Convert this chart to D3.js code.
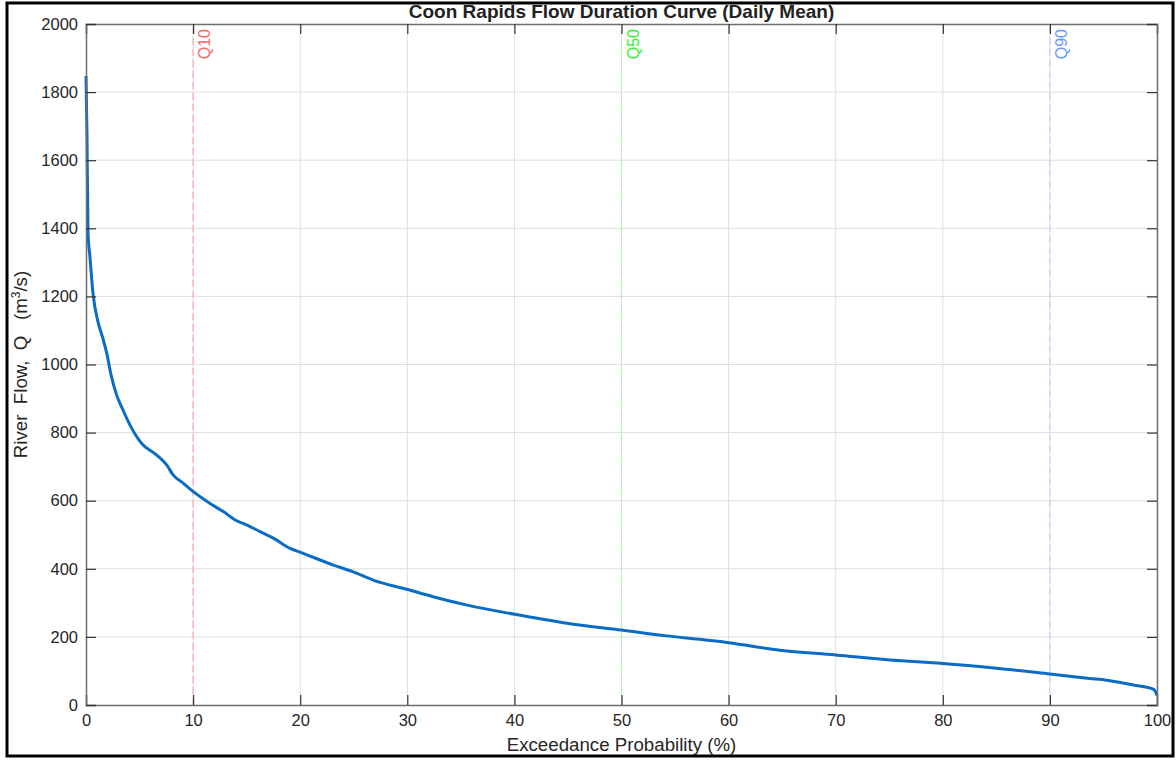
<!DOCTYPE html>
<html>
<head>
<meta charset="utf-8">
<script src="https://cdn.jsdelivr.net/npm/d3@7"></script>
<style>
  body { margin: 0; background: #fff; }
  text { font-family: "Liberation Sans", Arial, sans-serif; }
</style>
</head>
<body>
<div id="container"></div>
<script>
// flow duration curve
var exceed = [0, 0.09, 0.19, 0.37, 0.65, 1.12, 1.59, 1.96, 2.3, 2.86, 3.4, 4.11, 5.2, 6.6, 7.53, 8.15, 9.09, 9.96,
  11.58, 12.82, 14.07, 15.0, 16.25, 17.49, 19.05, 19.98, 23.1, 24.96, 26.8, 29.94, 32.4, 35.5, 39.9, 44.9, 50.0,
  54.2, 57.3, 60.0, 64.8, 70.0, 75.1, 80.0, 85.0, 90.0, 93.7, 95.3, 97.8, 99.7, 100];
var flow = [1847, 1680, 1386, 1316, 1210, 1125, 1075, 1030, 975, 910, 870, 822, 768, 734, 705, 675, 651, 628,
  592, 568, 541, 529, 509, 490, 460, 449, 411, 391, 367, 340, 318, 294, 267, 240, 220,
  203, 193, 183, 161, 147, 132, 122, 108, 91, 78, 73, 59, 46, 28];

var xTicks = [0, 10, 20, 30, 40, 50, 60, 70, 80, 90, 100];
var yTicks = [0, 200, 400, 600, 800, 1000, 1200, 1400, 1600, 1800, 2000];

var qNames = ["Q10", "Q50", "Q90"];
var qPos = [10, 50, 90];
var qText = ["#ff6464", "#33f033", "#6b98ff"];
var qLine = ["#ffb0b0", "#b8f0b8", "#c3d3ff"];

width = 1176;
height = 761;

var margin = { left: 86, right: 19, top: 24, bottom: 56 };

var svg = d3.select("#container").append("svg")
    .attr("width", width)
    .attr("height", height);

// figure frame
svg.append("rect")
    .attr("x", 7).attr("y", 3)
    .attr("width", 1166).attr("height", 753)
    .attr("fill", "#fff")
    .attr("stroke", "#000")
    .attr("stroke-width", 3);

var x = d3.scaleLinear().domain([0, 100]).range([margin.left, width - margin.right]);
var y = d3.scaleLinear().domain([0, 2000]).range([height - margin.bottom, margin.top]);

var g = svg.append("g");

// grid
g.append("g").selectAll("line").data(xTicks.slice(1, -1)).enter().append("line")
    .attr("x1", d => x(d)).attr("x2", d => x(d))
    .attr("y1", y(0)).attr("y2", y(2000))
    .attr("stroke", "#dedede").attr("stroke-width", 1);
g.append("g").selectAll("line").data(yTicks.slice(1, -1)).enter().append("line")
    .attr("x1", x(0)).attr("x2", x(100))
    .attr("y1", d => y(d)).attr("y2", d => y(d))
    .attr("stroke", "#dedede").attr("stroke-width", 1);

// quantile lines
var ql = g.append("g").selectAll("g").data(qNames).enter().append("g");
ql.append("line")
    .attr("x1", (d, i) => x(qPos[i])).attr("x2", (d, i) => x(qPos[i]))
    .attr("y1", y(0)).attr("y2", y(2000))
    .attr("stroke", (d, i) => qLine[i])
    .attr("stroke-width", 1.3)
    .attr("stroke-dasharray", "7,4");
ql.append("text")
    .attr("transform", (d, i) => "translate(" + (x(qPos[i]) + 17) + "," + (y(2000) + 5) + ") rotate(-90)")
    .attr("text-anchor", "end")
    .attr("font-size", 16)
    .attr("fill", (d, i) => qText[i])
    .text(d => d);

// curve
var line = d3.line()
    .x((d, i) => x(exceed[i]))
    .y(d => y(d))
    .curve(d3.curveMonotoneX);

g.append("path")
    .datum(flow)
    .attr("fill", "none")
    .attr("stroke", "#0a6cc4")
    .attr("stroke-width", 3)
    .attr("stroke-linejoin", "round")
    .attr("d", line);

// axes (inward ticks, box)
var axisColor = "#6e6e6e";
var xAxis = g.append("g")
    .attr("transform", "translate(0," + y(0) + ")")
    .call(d3.axisBottom(x).tickValues(xTicks).tickSize(-10).tickPadding(16).tickFormat(d3.format("d")));
var xTop = g.append("g")
    .attr("transform", "translate(0," + y(2000) + ")")
    .call(d3.axisTop(x).tickValues(xTicks).tickSize(-10).tickFormat(""));
var yAxis = g.append("g")
    .attr("transform", "translate(" + x(0) + ",0)")
    .call(d3.axisLeft(y).tickValues(yTicks).tickSize(-10).tickPadding(8).tickFormat(d3.format("d")));
var yRight = g.append("g")
    .attr("transform", "translate(" + x(100) + ",0)")
    .call(d3.axisRight(y).tickValues(yTicks).tickSize(-10).tickFormat(""));

[xAxis, xTop, yAxis, yRight].forEach(function(a) {
  a.attr("font-size", 16.5).attr("font-family", "'Liberation Sans', Arial, sans-serif");
  a.select(".domain").attr("stroke", axisColor).attr("stroke-width", 1.5);
  a.selectAll(".tick line").attr("stroke", "#333").attr("stroke-width", 1.2);
  a.selectAll(".tick text").attr("fill", "#262626");
});
xAxis.selectAll(".tick text").attr("dy", "0.3em");

// title
svg.append("text")
    .attr("x", (x(0) + x(100)) / 2)
    .attr("y", 18)
    .attr("text-anchor", "middle")
    .attr("font-size", 19)
    .attr("font-weight", "bold")
    .attr("fill", "#222")
    .text("Coon Rapids Flow Duration Curve (Daily Mean)");

// axis labels
svg.append("text")
    .attr("x", (x(0) + x(100)) / 2)
    .attr("y", 751)
    .attr("text-anchor", "middle")
    .attr("font-size", 18.7)
    .attr("fill", "#262626")
    .text("Exceedance Probability (%)");

var yl = svg.append("text")
    .attr("transform", "translate(27," + y(1000) + ") rotate(-90)")
    .attr("text-anchor", "middle")
    .attr("font-size", 18.7)
    .attr("fill", "#262626")
    .attr("xml:space", "preserve");
yl.append("tspan").text("River  Flow,  Q   (m");
yl.append("tspan").attr("font-size", 12).attr("dy", -7).text("3");
yl.append("tspan").attr("dy", 7).text("/s)");
</script>
</body>
</html>
